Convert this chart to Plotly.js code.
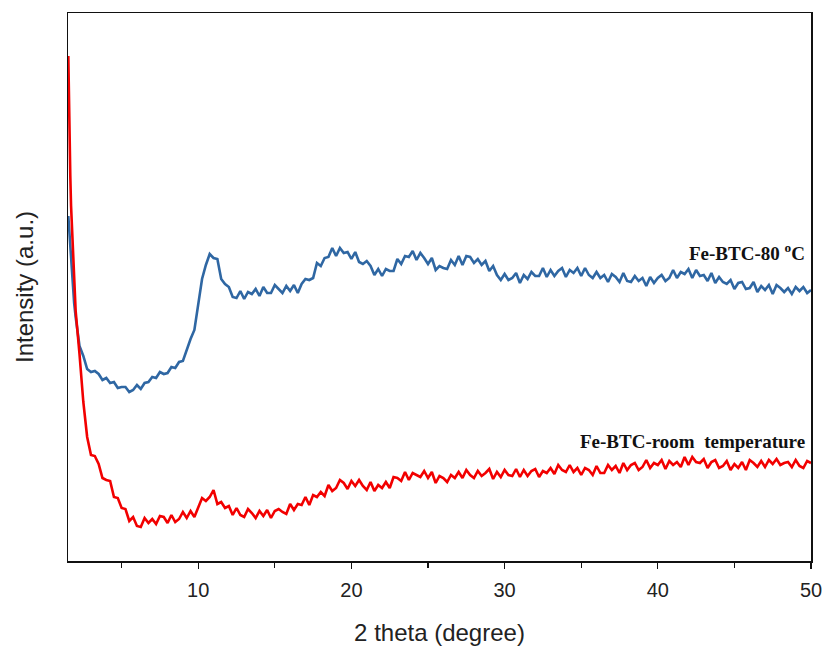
<!DOCTYPE html>
<html>
<head>
<meta charset="utf-8">
<script src="https://cdn.plot.ly/plotly-3.0.1.min.js"></script>
<style>html,body{margin:0;padding:0;background:#fff;}#chart{width:827px;height:649px;}</style>
</head>
<body>
<div id="chart"></div>
<script>
// 2θ sampling: explicit low-angle points, then a regular 0.25° grid from 2.0 to 50.0
const gridStart = 2.0;
const gridStep = 0.25;

// Fe-BTC-80 °C (blue) – intensity in arbitrary units
const blueHeadX = [1.52, 1.6, 1.7, 1.8, 1.9];
const blueHeadY = [345, 325, 298, 275, 258];
const blueY = [
244,215,205,192,189,190,187,181,183,178,
179,173,174,174,169,171,176,172,178,179,
184,183,189,187,188,194,193,199,200,212,
222,231,259,282,296,307,303,302,282,277,
274,264,263,270,262,269,267,272,265,274,
268,268,276,272,268,275,270,276,268,277,
282,281,283,298,295,303,304,313,305,313,
308,309,302,309,299,297,300,295,286,292,
285,292,290,290,302,297,305,304,310,301,
308,303,297,303,291,295,293,292,301,296,
305,296,305,304,298,302,296,300,290,295,
286,281,287,281,283,288,278,286,282,289,
285,285,293,284,291,285,290,293,284,291,
288,293,285,293,286,283,289,283,286,279,
287,284,279,288,280,279,285,280,283,275,
284,278,283,286,280,283,291,283,289,287,
292,283,291,285,286,280,288,278,284,279,
277,281,272,278,279,272,273,279,269,275,
271,276,267,276,273,269,273,267,274,270,
274,268,271
];

// Fe-BTC-room temperature (red)
const redHeadX = [1.52, 1.55, 1.6, 1.65, 1.7, 1.75, 1.8, 1.9];
const redHeadY = [505, 470, 425, 385, 355, 335, 318, 288];
const redY = [
250,207,159,124,106,105,97,83,81,80,
64,63,53,52,40,44,35,34,43,38,
42,37,45,44,38,46,39,42,49,43,
50,44,54,63,60,64,71,57,59,53,
55,46,53,46,44,52,48,43,50,45,
51,43,50,52,49,47,57,51,57,56,
64,56,66,64,69,65,76,70,73,81,
78,72,80,75,81,75,71,79,70,76,
73,79,73,84,83,80,89,81,88,86,
84,90,83,89,78,85,83,79,86,83,
89,83,91,86,83,90,85,88,92,82,
89,84,91,86,85,92,84,91,85,90,
92,84,90,88,93,87,96,91,89,96,
89,93,86,93,91,86,95,88,88,96,
91,95,88,98,91,96,98,91,94,101,
93,98,96,101,92,100,96,99,94,104,
96,104,99,98,102,93,99,101,93,95,
100,91,97,93,99,91,101,98,94,100,
94,101,97,102,96,98,99,94,101,95,
93,100,98
];

const xTicks = [10, 20, 30, 40, 50];
const xMinorTicks = [5, 15, 25, 35, 45];
const labelBlue = 'Fe-BTC-80 <sup>o</sup>C';
const labelRed = 'Fe-BTC-room  temperature';

function gridX(n) { const a = []; for (let i = 0; i < n; i++) a.push(+(gridStart + gridStep * i).toFixed(2)); return a; }

const blueX = blueHeadX.concat(gridX(blueY.length));
const blueAll = blueHeadY.concat(blueY);
const redX = redHeadX.concat(gridX(redY.length));
const redAll = redHeadY.concat(redY);

const traces = [
  {x: blueX, y: blueAll, type: 'scatter', mode: 'lines', line: {color: '#2f67a3', width: 2.6}, hoverinfo: 'skip'},
  {x: redX, y: redAll, type: 'scatter', mode: 'lines', line: {color: '#f20000', width: 2.6}, hoverinfo: 'skip'}
];

const layout = {
  width: 827, height: 649,
  margin: {l: 68, r: 16, t: 13, b: 88},
  paper_bgcolor: '#ffffff', plot_bgcolor: '#ffffff',
  showlegend: false,
  font: {family: 'Liberation Sans, Arial, sans-serif', color: '#222'},
  xaxis: {
    range: [1.5, 50], showgrid: false, zeroline: false,
    showline: true, linecolor: '#111', linewidth: 1.5, mirror: true,
    ticks: 'outside', ticklen: 6, tickwidth: 1.3, tickcolor: '#111',
    tickvals: xTicks, ticktext: xTicks.map(String),
    ticklabelstandoff: 4,
    tickfont: {size: 20, family: 'Liberation Sans, Arial, sans-serif', color: '#222'},
    minor: {tickvals: xMinorTicks, ticks: 'outside', ticklen: 5, tickwidth: 1.3, tickcolor: '#111', showgrid: false},
    title: {text: '2 theta (degree)', font: {size: 24, family: 'Liberation Sans, Arial, sans-serif', color: '#222'}, standoff: 24}
  },
  yaxis: {
    range: [0, 548], showgrid: false, zeroline: false,
    showline: true, linecolor: '#111', linewidth: 1.5, mirror: true,
    ticks: '', showticklabels: false,
    title: {text: 'Intensity (a.u.)', font: {size: 24, family: 'Liberation Sans, Arial, sans-serif', color: '#222'}, standoff: 26}
  },
  annotations: [
    {x: 0.995, xref: 'paper', xanchor: 'right', y: 309, yref: 'y', yanchor: 'middle', text: labelBlue, showarrow: false,
     font: {family: 'Liberation Serif, Times New Roman, serif', size: 19, color: '#111', weight: 'bold'}},
    {x: 0.995, xref: 'paper', xanchor: 'right', y: 120, yref: 'y', yanchor: 'middle', text: labelRed, showarrow: false,
     font: {family: 'Liberation Serif, Times New Roman, serif', size: 19, color: '#111', weight: 'bold'}}
  ]
};

Plotly.newPlot('chart', traces, layout, {staticPlot: true, displayModeBar: false});
</script>
</body>
</html>
